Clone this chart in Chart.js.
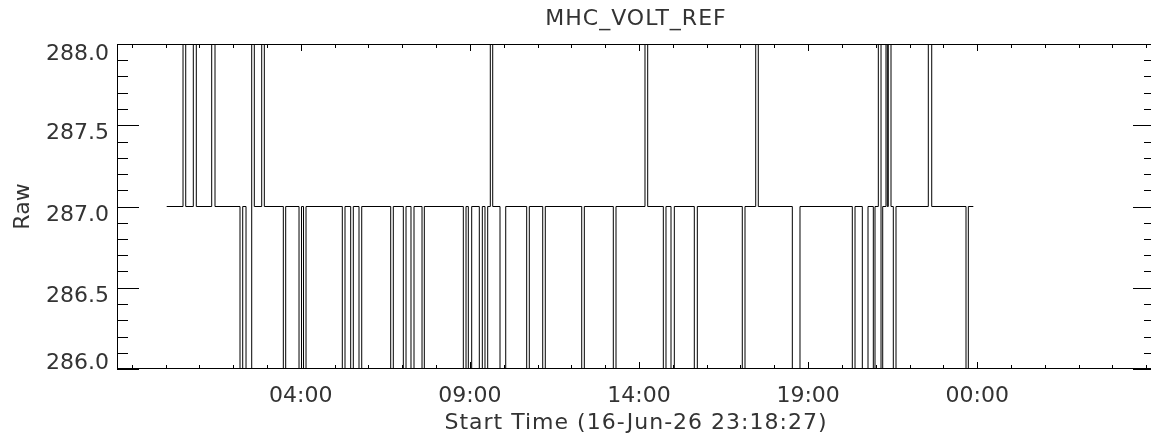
<!DOCTYPE html>
<html>
<head>
<meta charset="utf-8">
<title>MHC_VOLT_REF</title>
<script src="https://cdn.jsdelivr.net/npm/chart.js@4.4.1/dist/chart.umd.min.js"></script>
<style>
  html, body { margin: 0; padding: 0; background: #fff; overflow: hidden; }
  #wrap { width: 1156px; height: 441px; }
</style>
</head>
<body>
<div id="wrap"><canvas id="voltChart"></canvas></div>
<script>
// Hours since 17-Jun-26 00:00 at which the raw value changes
const changeHours = [
  0.035, 0.517, 0.597, 0.821, 0.910, 1.365, 1.463, 2.202, 2.282, 2.380,
  2.548, 2.625, 2.844, 2.921, 3.483, 3.553, 3.947, 4.021, 4.080, 4.154,
  5.227, 5.307, 5.475, 5.552, 5.721, 5.801, 6.658, 6.735, 7.031, 7.111,
  7.258, 7.347, 7.584, 7.652, 8.805, 8.885, 8.953, 9.053, 9.278, 9.367,
  9.446, 9.526, 9.603, 9.674, 9.890, 10.059, 10.679, 10.756, 11.153, 11.229,
  12.306, 12.383, 13.240, 13.320, 14.177, 14.257, 14.719, 14.798, 14.946, 15.044,
  15.635, 15.724, 17.054, 17.134, 17.451, 17.527, 18.533, 18.760, 20.307, 20.387,
  20.603, 20.771, 20.928, 20.978, 21.076, 21.156, 21.206, 21.303, 21.342, 21.371,
  21.451, 21.519, 21.599, 22.554, 22.655, 23.669, 23.737, 23.885
];
const rawValues = [
  287, 288, 287, 288, 287, 288, 287, 286, 287, 286,
  288, 287, 288, 287, 286, 287, 286, 287, 286, 287,
  286, 287, 286, 287, 286, 287, 286, 287, 286, 287,
  286, 287, 286, 287, 286, 287, 286, 287, 286, 287,
  286, 287, 288, 287, 286, 287, 286, 287, 286, 287,
  286, 287, 286, 287, 288, 287, 286, 287, 286, 287,
  286, 287, 286, 287, 288, 287, 286, 287, 286, 287,
  286, 287, 286, 287, 288, 286, 287, 288, 287, 288,
  287, 286, 287, 288, 287, 286, 287, 287
];

// Axis labels
const xTickHours = [4, 9, 14, 19, 24];
const xTickLabels = ['04:00', '09:00', '14:00', '19:00', '00:00'];
const yTickValues = [286.0, 286.5, 287.0, 287.5, 288.0];
const titleText = 'MHC_VOLT_REF';
const xTitleText = 'Start Time (16-Jun-26 23:18:27)';
const yTitleText = 'Raw';

const FONT = '22px "DejaVu Sans", sans-serif';

// IDL style box with inward ticks, labels and titles
const idlAxes = {
  id: 'idlAxes',
  afterDatasetsDraw(chart) {
    const { ctx, chartArea: a, scales: { x, y } } = chart;
    ctx.save();
    ctx.strokeStyle = '#000';
    ctx.lineWidth = 1;
    ctx.strokeRect(a.left + 0.5, a.top + 0.5, a.right - a.left - 1, a.bottom - a.top - 1);

    ctx.beginPath();
    // y ticks every 0.1, major every 0.5
    for (let i = 0; i <= 20; i++) {
      const v = y.min + i * 0.1;
      const py = Math.round(y.getPixelForValue(v)) + 0.5;
      const len = i % 5 === 0 ? 22 : 11;
      ctx.moveTo(a.left, py); ctx.lineTo(a.left + len, py);
      ctx.moveTo(a.right, py); ctx.lineTo(a.right - len, py);
    }
    // x ticks every hour
    for (let h = Math.ceil(x.min); h <= Math.floor(x.max); h++) {
      const px = Math.round(x.getPixelForValue(h)) + 0.5;
      const len = xTickHours.includes(h) ? 7 : 4;
      ctx.moveTo(px, a.bottom); ctx.lineTo(px, a.bottom - len);
      ctx.moveTo(px, a.top); ctx.lineTo(px, a.top + len);
    }
    ctx.stroke();

    // thin IDL text, so a softer fill
    ctx.fillStyle = '#333';
    ctx.font = FONT;
    ctx.textBaseline = 'alphabetic';

    // y labels
    ctx.textAlign = 'right';
    yTickValues.forEach((v, i) => {
      const py = y.getPixelForValue(v);
      let base;
      if (i === 0) base = py;              // bottom label sits on the axis
      else if (i === yTickValues.length - 1) base = py + 16;
      else base = py + 14;
      ctx.fillText(v.toFixed(1), 109, base);
    });

    // x labels
    ctx.textAlign = 'center';
    xTickHours.forEach((h, i) => {
      ctx.fillText(xTickLabels[i], x.getPixelForValue(h), 402);
    });

    const cx = (a.left + a.right) / 2;
    ctx.letterSpacing = '1px';
    ctx.fillText(titleText, cx, 25);
    ctx.fillText(xTitleText, cx, 429);
    ctx.letterSpacing = '0px';

    ctx.translate(29, (a.top + a.bottom) / 2);
    ctx.rotate(-Math.PI / 2);
    ctx.fillText(yTitleText, 0, 0);
    ctx.restore();
  }
};

const ctx = document.getElementById('voltChart').getContext('2d');
new Chart(ctx, {
  type: 'line',
  data: {
    datasets: [{
      data: changeHours.map((h, i) => ({ x: h, y: rawValues[i] })),
      stepped: true,
      borderColor: '#000',
      borderWidth: 1,
      pointRadius: 0,
      fill: false
    }]
  },
  options: {
    responsive: true,
    maintainAspectRatio: false,
    animation: false,
    layout: { padding: { left: 117, top: 44, right: 1, bottom: 72 } },
    plugins: { legend: { display: false }, tooltip: { enabled: false }, title: { display: false } },
    scales: {
      x: { type: 'linear', min: -1.435, max: 29.257, display: false },
      y: { type: 'linear', min: 286, max: 288, display: false }
    }
  },
  plugins: [idlAxes]
});
</script>
</body>
</html>
